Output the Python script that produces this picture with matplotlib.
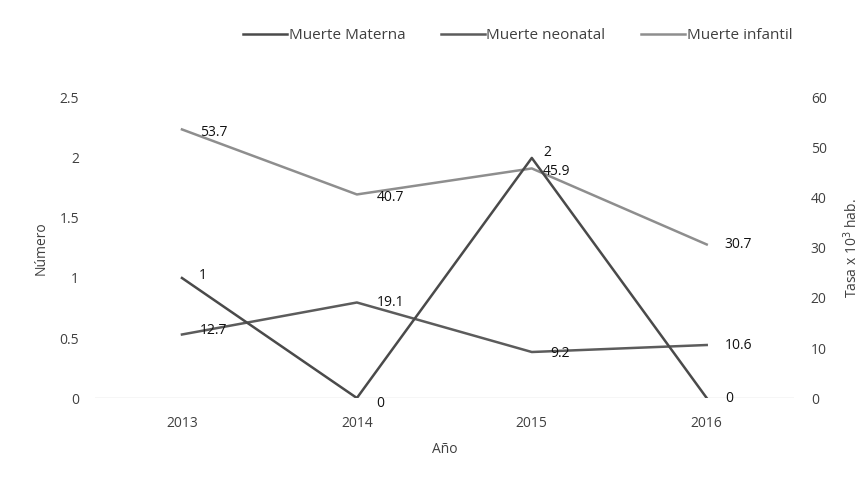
import numpy as np
import matplotlib
matplotlib.use('Agg')
import matplotlib.pyplot as plt

plt.rcParams['font.family'] = ['Open Sans', 'DejaVu Sans']

years = ['2013', '2014', '2015', '2016']
materna = [1, 0, 2, 0]                 # Número (left axis)
neonatal = [12.7, 19.1, 9.2, 10.6]     # Tasa x 10^3 hab. (right axis)
infantil = [53.7, 40.7, 45.9, 30.7]    # Tasa x 10^3 hab. (right axis)

c_mat = '#4a4a4a'
c_neo = '#5c5c5c'
c_inf = '#8e8e8e'
c_txt = '#404040'

fig = plt.figure(figsize=(8.67, 4.92), dpi=100)
ax = fig.add_axes([0.109, 0.191, 0.807, 0.610])
ax2 = ax.twinx()

x = np.arange(len(years))

l1, = ax.plot(x, materna, color=c_mat, lw=1.8, zorder=3)
l2, = ax2.plot(x, neonatal, color=c_neo, lw=1.8)
l3, = ax2.plot(x, infantil, color=c_inf, lw=1.8)

ax.set_zorder(ax2.get_zorder() + 1)
ax.patch.set_visible(False)

ax.set_xlim(-0.5, len(years) - 0.5)
ax.set_ylim(0, 2.5)
ax2.set_ylim(0, 60)
ax.set_yticks([0, 0.5, 1, 1.5, 2, 2.5])
ax.set_yticklabels(['0', '0.5', '1', '1.5', '2', '2.5'])
ax2.set_yticks(range(0, 61, 10))
ax.set_xticks(x)
ax.set_xticklabels(years)

for a in (ax, ax2):
    for s in a.spines.values():
        s.set_visible(False)
    a.tick_params(length=0, labelsize=10, colors=c_txt)
ax.tick_params(axis='y', pad=11)
ax2.tick_params(axis='y', pad=12)
ax.tick_params(axis='x', pad=13)

ax.axhline(0, color='#d4d4d4', lw=1.0, zorder=0)

ax.set_xlabel('Año', fontsize=10, color=c_txt, labelpad=8)
ax.set_ylabel('Número', fontsize=10, color=c_txt, labelpad=8)
ax2.set_ylabel('Tasa x 10$^{3}$ hab.', fontsize=10, color=c_txt, labelpad=11)


def label(a, vals, dx, dy):
    for i, v in enumerate(vals):
        a.annotate('{:g}'.format(v), (x[i], v), xytext=(dx[i], dy[i]),
                   textcoords='offset points', ha='left', va='center',
                   fontsize=10, color='#111111', zorder=5)


label(ax, materna, dx=[12, 14, 8, 13], dy=[2, -4, 4, 0])
label(ax2, neonatal, dx=[13, 14, 13, 13], dy=[3, 0, -1, 0])
label(ax2, infantil, dx=[13, 14, 8, 13], dy=[-2, -2, -2, 0])

fig.legend([l1, l2, l3], ['Muerte Materna', 'Muerte neonatal', 'Muerte infantil'],
           loc='center', bbox_to_anchor=(0.597, 0.927), ncol=3, frameon=False,
           fontsize=11, handlelength=2.9, handletextpad=0.1, columnspacing=2.3,
           labelcolor=c_txt)

fig.savefig('out.png', dpi=100)
